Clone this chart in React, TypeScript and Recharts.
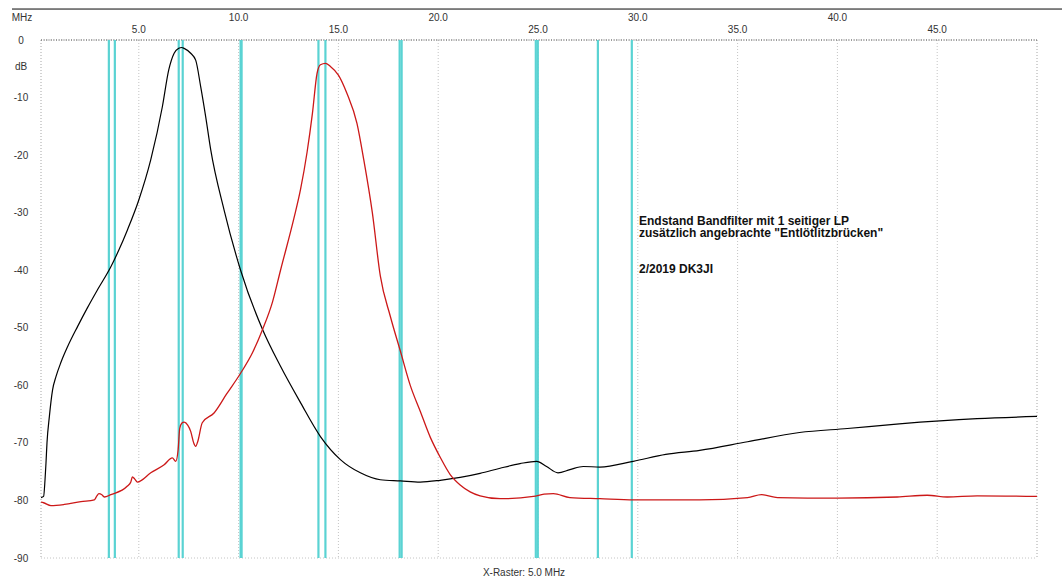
import React from "react";
import { LineChart, Line, XAxis, YAxis, CartesianGrid, ReferenceLine } from "recharts";

const xTicks = [5, 10, 15, 20, 25, 30, 35, 40, 45];
const yTicks = [0, -10, -20, -30, -40, -50, -60, -70, -80, -90];
const bandEdges = [3.5, 3.8, 7.0, 7.2, 10.1, 10.15, 14.0, 14.35, 18.068, 18.168, 24.89, 24.99, 28.0, 29.7];

// black trace: 7 MHz band filter
const blackFreq = [0.1, 0.23, 0.3, 0.35, 0.4, 0.52, 0.68, 0.85, 1.1, 1.43, 1.93, 2.43, 2.93, 3.6, 4.0, 4.43, 5.0, 5.6, 6.18, 6.5, 6.77, 7.0, 7.15, 7.27, 7.6, 7.85, 8.1, 8.35, 8.6, 9.27, 10.1, 11.2, 12.1, 13.1, 14.1, 15.1, 16.1, 17.1, 18.1, 19.1, 20.1, 21.1, 22.1, 23.1, 24.1, 24.93, 25.43, 26.0, 26.6, 27.27, 28.1, 29.77, 31.4, 33.1, 35.5, 38.1, 40.5, 43.1, 47, 50];
const blackDb = [-79.5, -79.3, -76.5, -73.5, -70, -65.4, -60.8, -58.5, -56, -53.3, -49.8, -46.5, -43.4, -39.4, -36.5, -33, -27.8, -20.8, -11.6, -5.2, -2.3, -1.45, -1.3, -1.45, -2.3, -3.5, -8.1, -13.3, -19, -29.5, -40, -50.3, -56.7, -63, -68.9, -72.9, -75.2, -76.4, -76.6, -76.8, -76.5, -76.0, -75.3, -74.4, -73.6, -73.2, -74.1, -75.2, -74.65, -74.1, -74.2, -73.2, -72, -71.3, -69.8, -68.2, -67.5, -66.7, -65.8, -65.4];

// red trace: 14 MHz band filter
const redFreq = [0.1, 0.23, 0.6, 1.27, 2.1, 2.77, 2.9, 3.0, 3.15, 3.27, 3.6, 4.43, 4.6, 4.68, 4.8, 4.93, 5.6, 6.27, 6.68, 6.85, 6.97, 7.05, 7.15, 7.27, 7.45, 7.6, 7.75, 7.85, 7.95, 8.18, 8.77, 9.4, 10.1, 10.7, 11.2, 11.7, 12.1, 12.77, 13.1, 13.43, 13.7, 13.93, 14.1, 14.35, 14.6, 15.0, 15.43, 15.93, 16.27, 16.7, 17.1, 17.6, 18.1, 18.6, 19.1, 19.6, 20.1, 20.6, 21.1, 21.6, 22.1, 23.1, 24.77, 25.3, 25.77, 26.6, 28.1, 29.8, 33.1, 35.5, 36.2, 37, 40, 43, 44.5, 45.5, 47, 50];
const redDb = [-80.3, -80.4, -80.9, -80.7, -80.2, -79.9, -79.2, -78.8, -79, -79.4, -79, -77.5, -76.8, -75.9, -76.3, -76.8, -75.2, -73.8, -72.6, -73.2, -71.2, -67.5, -66.6, -66.4, -66.9, -68, -70, -70.6, -69.8, -66.5, -64.8, -61.5, -57.9, -54.3, -50.3, -45.5, -40, -31, -26, -19.5, -12.7, -5.8, -4.3, -4.05, -4.6, -6.1, -9.3, -14.5, -20.8, -30, -41, -48, -54, -60, -64.5, -69, -72.5, -75.5, -77.3, -78.5, -79.2, -79.7, -79.3, -78.9, -78.8, -79.5, -79.7, -79.9, -79.9, -79.5, -79.0, -79.5, -79.6, -79.4, -79.1, -79.4, -79.2, -79.3];

const titleLines = ["Endstand Bandfilter mit 1 seitiger LP", "zusätzlich angebrachte \"Entlötlitzbrücken\"", "2/2019  DK3JI"];

const blackData = blackFreq.map((f, i) => ({ f, db: blackDb[i] }));
const redData = redFreq.map((f, i) => ({ f, db: redDb[i] }));

const FONT = "'Liberation Sans', Arial, sans-serif";

const TopTick = (props: any) => {
  const { x, payload } = props;
  const high = payload.value % 10 === 0;
  return (
    <text x={x} y={high ? 21 : 33} textAnchor="middle" fontSize={10} fontFamily={FONT} fill="#333">
      {payload.value.toFixed(1)}
    </text>
  );
};

const makeYTick = (cx: number, dbx: number) => (props: any) => {
  const { y, payload } = props;
  return (
    <g>
      <text x={cx} y={y + 3.5} textAnchor="middle" fontSize={10} fontFamily={FONT} fill="#333">
        {payload.value}
      </text>
      {payload.value === 0 ? (
        <text x={dbx} y={y + 29.5} textAnchor="middle" fontSize={10} fontFamily={FONT} fill="#333">
          dB
        </text>
      ) : null}
    </g>
  );
};

const LeftTick = makeYTick(21, 21);
const RightTick = makeYTick(1049, 1052);

export default function App() {
  return (
    <div style={{ position: "absolute", left: 0, top: 0, width: 1062, height: 581, background: "#fff" }}>
      <LineChart width={1062} height={581} data={blackData} margin={{ top: 9, right: 0, bottom: 23, left: 0 }}>
        <CartesianGrid stroke="#c4c4c4" strokeDasharray="1 2" />
        <XAxis
          dataKey="f"
          type="number"
          orientation="top"
          domain={[0.1, 50]}
          ticks={xTicks}
          height={31}
          tick={<TopTick />}
          tickLine={false}
          axisLine={false}
          allowDataOverflow
        />
        <YAxis yAxisId="l" type="number" domain={[-90, 0]} ticks={yTicks} width={41} tick={<LeftTick />} tickLine={false} axisLine={false} />
        <YAxis yAxisId="r" orientation="right" type="number" domain={[-90, 0]} ticks={yTicks} width={25} tick={<RightTick />} tickLine={false} axisLine={false} />
        <ReferenceLine yAxisId="l" x={0.1} stroke="#c4c4c4" strokeDasharray="1 2" />
        <ReferenceLine yAxisId="l" x={50} stroke="#c4c4c4" strokeDasharray="1 2" />
        <ReferenceLine yAxisId="l" y={0} stroke="#555" strokeDasharray="1 1.5" />
        {bandEdges.map((b) => (
          <ReferenceLine key={b} yAxisId="l" x={b} stroke="#5ad3d3" strokeWidth={2.2} />
        ))}
        <Line yAxisId="l" data={blackData} dataKey="db" stroke="#000" strokeWidth={1.2} dot={false} isAnimationActive={false} type="monotone" />
        <Line yAxisId="l" data={redData} dataKey="db" stroke="#cc1818" strokeWidth={1.3} dot={false} isAnimationActive={false} type="monotone" />
      </LineChart>
      <svg width={1062} height={581} style={{ position: "absolute", left: 0, top: 0, pointerEvents: "none" }}>
        <rect x={12} y={8.3} width={1050} height={1.5} fill="#5a5a5a" />
        <text x={22} y={21} textAnchor="middle" fontSize={10} fontFamily={FONT} fill="#333">MHz</text>
        <text x={524} y={576} textAnchor="middle" fontSize={10} fontFamily={FONT} fill="#333">X-Raster: 5.0 MHz</text>
        <text x={639} y={225} fontSize={12} fontWeight="bold" fontFamily={FONT} fill="#111">{titleLines[0]}</text>
        <text x={639} y={237} fontSize={12} fontWeight="bold" fontFamily={FONT} fill="#111">{titleLines[1]}</text>
        <text x={639} y={273} fontSize={12} fontWeight="bold" fontFamily={FONT} fill="#111">{titleLines[2]}</text>
      </svg>
    </div>
  );
}
